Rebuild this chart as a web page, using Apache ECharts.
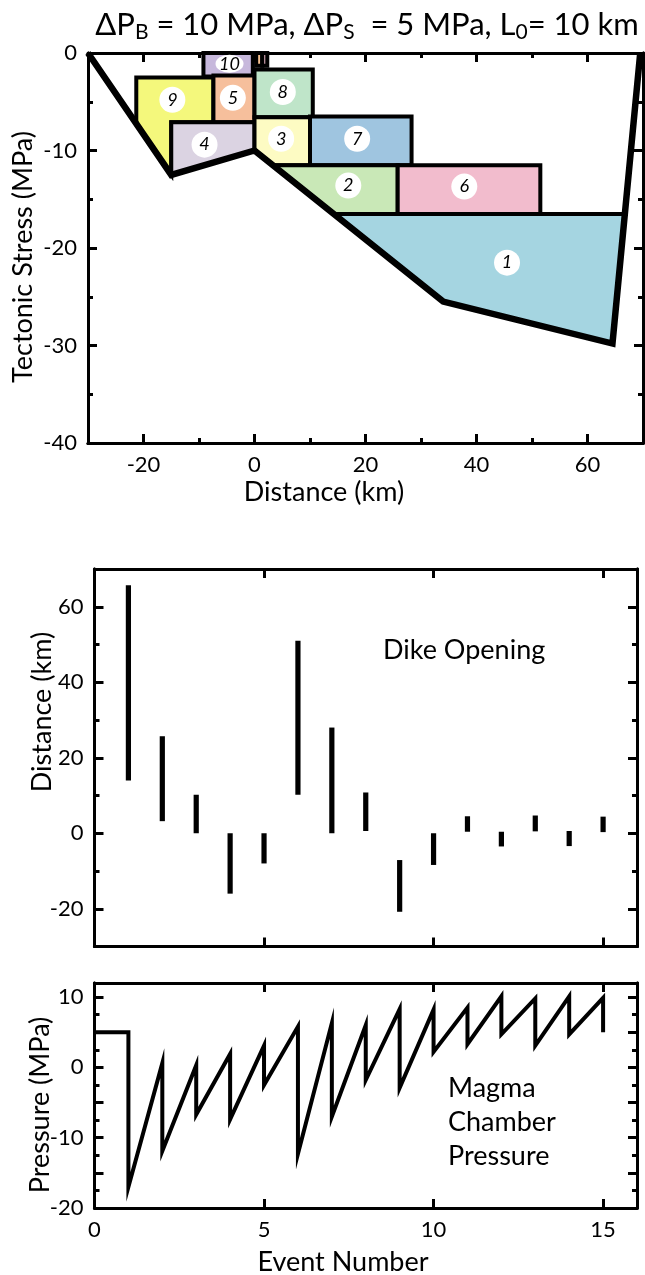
<!DOCTYPE html>
<html>
<head>
<meta charset="utf-8">
<script src="https://cdn.jsdelivr.net/npm/echarts@6/dist/echarts.min.js"></script>
<style>
  html, body { margin: 0; padding: 0; background: #fff; }
  #chart { width: 645px; height: 1275px; }
</style>
</head>
<body>
<div id="chart"></div>
<script>
  var FONT = 'Lato, "Open Sans", sans-serif';

  // ---- top panel: tectonic stress left after each dike event ----
  // outer stress profile (distance km, stress MPa)
  var stressProfile = [[-30, 0], [-15, -12.5], [0, -10], [34, -25.5], [64.5, -29.8], [69.5, 0]];
  // area released by each event
  var block1 = [[14.3, -16.5], [66.7, -16.5], [64.5, -29.8], [34, -25.5]];
  var block2 = [[3.3, -11.5], [25.8, -11.5], [25.8, -16.5], [14.3, -16.5]];
  var block3 = [[0, -6.6], [10, -6.6], [10, -11.5], [3.3, -11.5], [0, -10]];
  var block4 = [[-15, -7.1], [0, -7.1], [0, -10], [-15, -12.5]];
  var block5 = [[-7.4, -2.3], [0, -2.3], [0, -7.1], [-7.4, -7.1]];
  var block6 = [[25.8, -11.5], [51.5, -11.5], [51.5, -16.5], [25.8, -16.5]];
  var block7 = [[10, -6.5], [28.3, -6.5], [28.3, -11.5], [10, -11.5]];
  var block8 = [[0, -1.7], [10.5, -1.7], [10.5, -6.6], [0, -6.6]];
  var block9 = [[-21.3, -2.5], [-7.4, -2.5], [-7.4, -7.1], [-15, -7.1], [-15, -12.5], [-21.3, -7.25]];
  var block10 = [[-9.2, 0], [-0.3, 0], [-0.3, -2.4], [-9.2, -2.4]];
  var block11 = [[0.3, 0], [1.4, 0], [1.4, -1.3], [0.3, -1.3]];
  var block12 = [[1.4, 0], [2.3, 0], [2.3, -1.3], [1.4, -1.3]];
  var blockPolys = [block10, block11, block12, block9, block5, block4, block8, block3, block7, block2, block6, block1];
  var blockColors = ['#c7b8dc', '#f5c08f', '#f2bccd', '#f4f87c', '#f6bf9c', '#dbd3e2',
                     '#bfe5c9', '#fdfbc3', '#9fc5e0', '#c9e8b7', '#f2bccd', '#a5d5e1'];
  var blockLabels = [
    ['1', 45.5, -21.5], ['2', 16.9, -13.6], ['3', 4.8, -8.8], ['4', -9, -9.4], ['5', -3.9, -4.6],
    ['6', 37.8, -13.7], ['7', 18.5, -8.8], ['8', 5.1, -4.0], ['9', -14.8, -4.8], ['10', -4.5, -1.1]
  ];

  // ---- middle panel: dike opening extent per event ----
  var events = [1, 2, 3, 4, 5, 6, 7, 8, 9, 10, 11, 12, 13, 14, 15];
  var dikeFrom = [14, 3.2, 0, -16, -8, 10.2, 0, 0.6, -20.8, -8.4, 0.4, -3.5, 0.5, -3.4, 0.3];
  var dikeTo = [65.7, 25.7, 10.2, 0, 0, 51, 28, 10.8, -7.1, 0, 4.5, 0.4, 4.7, 0.6, 4.4];

  // ---- bottom panel: magma chamber pressure ----
  var startPressure = 5;
  var peakPressure = [5, 0.6, 0.3, 1.9, 3.1, 5.8, 6.3, 6.0, 8.3, 8.2, 8.5, 10.1, 9.8, 10.1, 9.9];
  var troughPressure = [-17, -11.9, -6.7, -7.4, -2.5, -12.3, -7.0, -1.8, -2.9, 2.2, 3.3, 4.7, 3.1, 4.7, 5];

  var pressureData = [[0, startPressure]];
  events.forEach(function (e, i) {
    pressureData.push([e, peakPressure[i]]);
    pressureData.push([e, troughPressure[i]]);
  });
  var dikeData = events.map(function (e, i) { return [e, dikeFrom[i], dikeTo[i]]; });

  function axis(gridIndex, position, min, max, interval, tickLen, label) {
    var a = {
      type: 'value', gridIndex: gridIndex, position: position, min: min, max: max,
      splitNumber: 5,
      axisLine: { onZero: false, lineStyle: { color: '#000', width: 3 } },
      axisTick: { inside: true, length: tickLen, lineStyle: { color: '#000', width: 3 } },
      axisLabel: { show: false },
      splitLine: { show: false }
    };
    if (interval) a.interval = interval;
    if (label) {
      a.axisLabel = Object.assign({ show: true, color: '#000', fontFamily: FONT, fontSize: 22, margin: 11 }, label);
    }
    return a;
  }

  function axisName(text, x, y, vertical) {
    return {
      type: 'text', x: x, y: y, rotation: vertical ? Math.PI / 2 : 0,
      style: { text: text, fontFamily: FONT, fontSize: 27, fill: '#000', align: 'center', verticalAlign: 'middle' }
    };
  }

  var chart = echarts.init(document.getElementById('chart'));
  chart.setOption({
    animation: false,
    backgroundColor: '#fff',
    title: {
      text: '{m|ΔP}{s|B}{m| = 10 MPa, ΔP}{s|S}{m|  = 5 MPa, L}{s|0}{m|= 10 km}',
      left: 362, top: 1, textAlign: 'center',
      textStyle: {
        fontWeight: 'normal',
        rich: {
          m: { fontFamily: FONT, fontSize: 31, fontWeight: 'normal', color: '#000', lineHeight: 37 },
          s: { fontFamily: FONT, fontSize: 21, fontWeight: 'normal', color: '#000', lineHeight: 23, verticalAlign: 'bottom' }
        }
      }
    },
    grid: [
      { left: 88, top: 53, width: 555, height: 390, outerBoundsMode: 'none' },
      { left: 94.5, top: 569, width: 542.5, height: 377.5, outerBoundsMode: 'none' },
      { left: 94.5, top: 983, width: 542.5, height: 225, outerBoundsMode: 'none' }
    ],
    xAxis: [
      axis(0, 'bottom', -30, 70, null, 9, { showMinLabel: false, showMaxLabel: false }),
      axis(0, 'bottom', -30, 70, 10, 5),
      axis(0, 'top', -30, 70, null, 9),
      axis(0, 'top', -30, 70, 10, 5),
      axis(1, 'bottom', 0, 16, 5, 9),
      axis(1, 'top', 0, 16, 5, 9),
      axis(2, 'bottom', 0, 16, 5, 9, { showMaxLabel: false }),
      axis(2, 'top', 0, 16, 5, 9)
    ],
    yAxis: [
      axis(0, 'left', -40, 0, 10, 9, {}),
      axis(0, 'left', -40, 0, 5, 5),
      axis(0, 'right', -40, 0, 10, 9),
      axis(0, 'right', -40, 0, 5, 5),
      axis(1, 'left', -30, 70, null, 9, { showMinLabel: false, showMaxLabel: false }),
      axis(1, 'left', -30, 70, 10, 5),
      axis(1, 'right', -30, 70, null, 9),
      axis(1, 'right', -30, 70, 10, 5),
      axis(2, 'left', -20, 12, 5, 9, {
        formatter: function (v) { return v % 10 === 0 ? String(v) : ''; }
      }),
      axis(2, 'left', -20, 12, 2.5, 5),
      axis(2, 'right', -20, 12, 5, 9),
      axis(2, 'right', -20, 12, 2.5, 5)
    ],
    graphic: [
      axisName('Tectonic Stress (MPa)', 23, 257, true),
      axisName('Distance (km)', 324, 492, false),
      axisName('Distance (km)', 42, 712, true),
      axisName('Pressure (MPa)', 40, 1105, true),
      axisName('Event Number', 343, 1262, false),
      { type: 'text', left: 383, top: 637, style: { text: 'Dike Opening', fontFamily: FONT, fontSize: 27, fill: '#000' } },
      { type: 'text', left: 448, top: 1071, style: { text: 'Magma\nChamber\nPressure', fontFamily: FONT, fontSize: 27, lineHeight: 34, fill: '#000' } }
    ],
    series: [
      {
        type: 'custom', xAxisIndex: 0, yAxisIndex: 0, z: 2,
        data: blockPolys.map(function (p, i) { return [p[0][0], p[0][1], i]; }),
        renderItem: function (params, api) {
          var poly = blockPolys[api.value(2)];
          return {
            type: 'polygon',
            shape: { points: poly.map(function (p) { return api.coord(p); }) },
            style: { fill: blockColors[api.value(2)], stroke: '#000', lineWidth: 4, lineJoin: 'miter' }
          };
        }
      },
      {
        type: 'line', xAxisIndex: 0, yAxisIndex: 0, z: 3,
        data: stressProfile, showSymbol: false, silent: true,
        lineStyle: { color: '#000', width: 6.5, join: 'miter', miterLimit: 20 }
      },
      {
        type: 'scatter', xAxisIndex: 0, yAxisIndex: 0, z: 4,
        data: blockLabels.map(function (b) {
          return { name: b[0], value: [b[1], b[2]], symbolSize: b[0] === '10' ? [28, 18] : 26 };
        }),
        itemStyle: { color: '#fff', opacity: 1 },
        label: {
          show: true, position: 'inside', formatter: '{b}', color: '#000',
          fontFamily: FONT, fontStyle: 'italic', fontSize: 18
        }
      },
      {
        type: 'custom', xAxisIndex: 4, yAxisIndex: 4,
        data: dikeData,
        renderItem: function (params, api) {
          var lo = api.coord([api.value(0), api.value(1)]);
          var hi = api.coord([api.value(0), api.value(2)]);
          return {
            type: 'rect',
            shape: { x: lo[0] - 2.6, y: hi[1], width: 5.2, height: lo[1] - hi[1] },
            style: { fill: '#000' }
          };
        }
      },
      {
        type: 'line', xAxisIndex: 6, yAxisIndex: 8,
        data: pressureData, showSymbol: false, silent: true,
        lineStyle: { color: '#000', width: 4, join: 'miter', miterLimit: 20, cap: 'butt' }
      }
    ]
  });
</script>
</body>
</html>
